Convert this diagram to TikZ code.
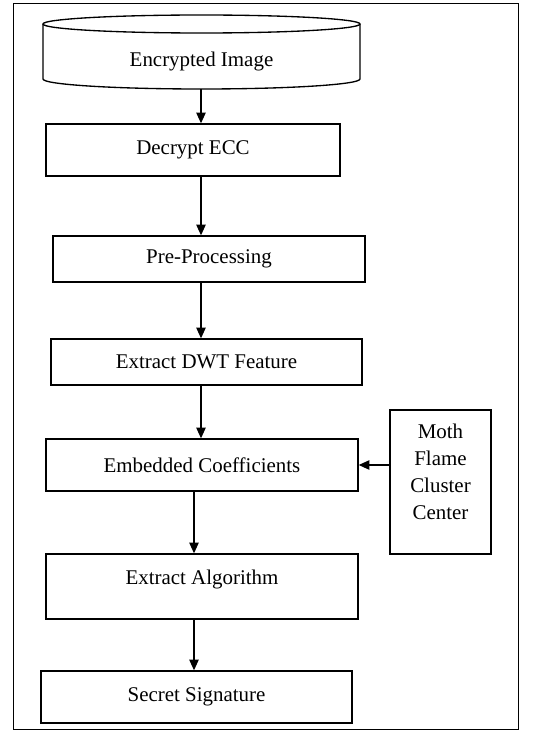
\documentclass[tikz,border=0pt]{standalone}
\usepackage{fontspec}
\setmainfont{Liberation Serif}
\usetikzlibrary{arrows.meta}

\tikzset{every picture/.style={line width=0.75pt}}
\tikzset{
  stagebox/.style={draw, line width=1pt, inner sep=0pt, align=center, font=\fontsize{15.7}{20.25}\selectfont},
  plaintext/.style={inner sep=0pt, align=center, font=\fontsize{15.7}{20.25}\selectfont},
  flowarrow/.style={line width=1pt, -{Triangle[length=8pt,width=7pt]}}
}

\begin{document}
\begin{tikzpicture}[x=0.75pt,y=0.75pt,yscale=-1,xscale=1]
\useasboundingbox (0,0) rectangle (537,731);

%Shape: Rectangle [frame]
\draw   (13,4) rectangle (518,729) ;

%Shape: Can
\draw [line width=1pt]  (43,24) -- (43,79) arc [start angle=180, end angle=0, x radius=158.5, y radius=10] -- (360,24) ;
\draw [line width=1pt]  (201.5,24) ellipse [x radius=158.5, y radius=9] ;

% Text Node
\node [plaintext, anchor=base, minimum width=237.75pt, text height=38.8pt, text depth=16.7pt] (encimg) at (201.5,66.7) {Encrypted Image};
\coordinate (flowx) at (201,89) ;
% Text Node
\node [stagebox, minimum width=220.5pt, minimum height=39pt] (decrypt) at (193,150) {Decrypt ECC};
% Text Node
\node [stagebox, minimum width=234pt, minimum height=34.5pt] (preproc) at (209,259) {Pre-Processing};
% Text Node
\node [stagebox, minimum width=233.25pt, minimum height=34.5pt] (dwt) at (206.5,362) {Extract DWT Feature};
% Text Node
\node [stagebox, minimum width=234pt, minimum height=39pt] (embed) at (202,465) {Embedded Coefficients};
% Text Node
\node [stagebox, anchor=base, minimum width=234pt, text height=22.5pt, text depth=26.25pt] (extract) at (202,584) {Extract Algorithm};
% Text Node
\node [stagebox, minimum width=233.25pt, minimum height=39pt] (secret) at (196.5,697) {Secret Signature};
%Shape: Rectangle [moth]
\node [stagebox, minimum width=75.75pt, minimum height=108pt] (moth) at (440.5,482) {};
% Text Node
\node [plaintext] (mothtext) at (440.5,472) {Moth\\Flame\\Cluster\\Center};

%Straight Lines
\draw [flowarrow] (flowx) -- (flowx |- decrypt.north) ;
\draw [flowarrow] (decrypt.south -| flowx) -- (preproc.north -| flowx) ;
\draw [flowarrow] (preproc.south -| flowx) -- (dwt.north -| flowx) ;
\draw [flowarrow] (dwt.south -| flowx) -- (embed.north -| flowx) ;
\draw [flowarrow] ([xshift=-6pt]embed.south) -- ([xshift=-6pt]embed.south |- extract.north) ;
\draw [flowarrow] ([xshift=-6pt]extract.south) -- ([xshift=-6pt]extract.south |- secret.north) ;
\draw [flowarrow] (moth.west |- embed.east) -- (embed.east) ;

\end{tikzpicture}
\end{document}
